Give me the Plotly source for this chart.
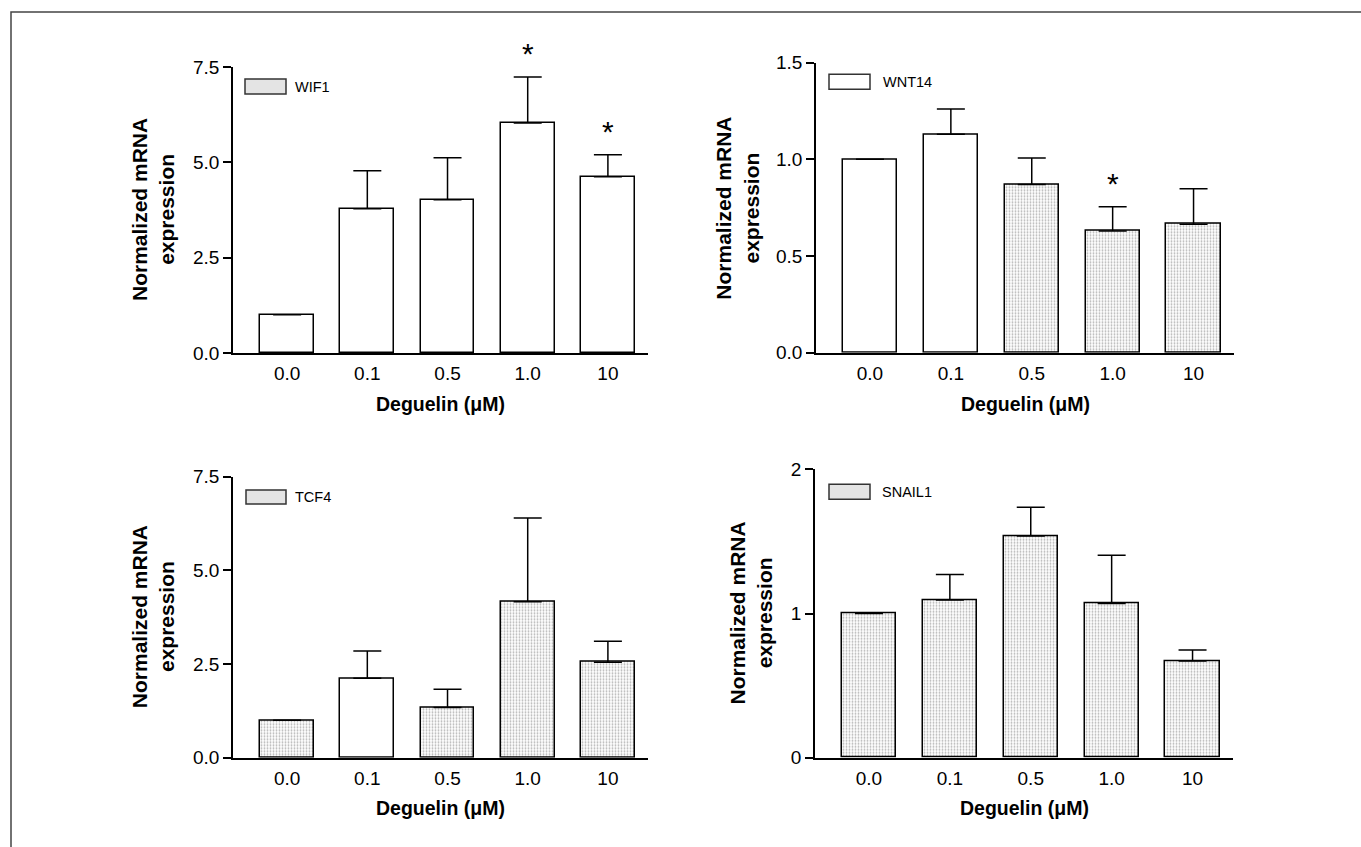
import plotly.graph_objects as go

# ---------------- data ----------------
concentrations = ["0.0", "0.1", "0.5", "1.0", "10"]

wif1_mean = [1.0, 3.78, 4.02, 6.03, 4.62]
wif1_err = [0.0, 1.0, 1.1, 1.21, 0.58]
wif1_sig = [False, False, False, True, True]
wif1_dotted = [False, False, False, False, False]

wnt14_mean = [1.0, 1.13, 0.87, 0.63, 0.665]
wnt14_err = [0.0, 0.13, 0.137, 0.125, 0.183]
wnt14_sig = [False, False, False, True, False]
wnt14_dotted = [False, False, True, True, True]

tcf4_mean = [1.0, 2.12, 1.34, 4.16, 2.55]
tcf4_err = [0.0, 0.73, 0.49, 2.24, 0.56]
tcf4_sig = [False, False, False, False, False]
tcf4_dotted = [True, False, True, True, True]

snail1_mean = [1.0, 1.094, 1.537, 1.07, 0.67]
snail1_err = [0.0, 0.176, 0.2, 0.334, 0.077]
snail1_sig = [False, False, False, False, False]
snail1_dotted = [True, True, True, True, True]

gene_names = ["WIF1", "WNT14", "TCF4", "SNAIL1"]
legend_dotted = [True, False, True, True]

y_ranges = [[0, 7.5], [0, 1.5], [0, 7.5], [0, 2]]
y_ticks = [[0, 2.5, 5.0, 7.5], [0, 0.5, 1.0, 1.5], [0, 2.5, 5.0, 7.5], [0, 1, 2]]
y_ticktext = [["0.0", "2.5", "5.0", "7.5"], ["0.0", "0.5", "1.0", "1.5"],
              ["0.0", "2.5", "5.0", "7.5"], ["0", "1", "2"]]

# ---------------- layout geometry (pixels) ----------------
W, H = 1361, 847
FONT = "Liberation Sans, Arial, Helvetica, sans-serif"

panels = [
    dict(x0=233, x1=648, ytop=67, ybot=353, xr=[-0.675, 4.5], ytitle_x=153),
    dict(x0=816, x1=1234, ytop=62.7, ybot=352.7, xr=[-0.667, 4.5], ytitle_x=737),
    dict(x0=233, x1=648, ytop=476.7, ybot=757.7, xr=[-0.675, 4.5], ytitle_x=153),
    dict(x0=815, x1=1233, ytop=469.3, ybot=757.7, xr=[-0.667, 4.5], ytitle_x=750),
]
xtitle_y = [404, 404, 808, 808]
legend_px = [
    dict(bx0=245, bx1=286, by0=79, by1=94, tx=293),
    dict(bx0=829, bx1=870, by0=74.3, by1=89.3, tx=881),
    dict(bx0=246, bx1=286, by0=490, by1=504, tx=293),
    dict(bx0=829, bx1=870, by0=484.3, by1=499.3, tx=880),
]

means = [wif1_mean, wnt14_mean, tcf4_mean, snail1_mean]
errs = [wif1_err, wnt14_err, tcf4_err, snail1_err]
sigs = [wif1_sig, wnt14_sig, tcf4_sig, snail1_sig]
dotted = [wif1_dotted, wnt14_dotted, tcf4_dotted, snail1_dotted]

fig = go.Figure()
shapes = []
annotations = []
layout = dict(
    width=W, height=H, autosize=False,
    margin=dict(l=0, r=0, t=0, b=0, pad=0, autoexpand=False),
    paper_bgcolor="white", plot_bgcolor="white",
    showlegend=False,
    font=dict(family=FONT, color="black"),
    bargap=0,
)

xpos = list(range(len(concentrations)))
for i in range(4):
    p = panels[i]
    sfx = "" if i == 0 else str(i + 1)
    xa, ya = "x" + sfx, "y" + sfx

    fig.add_trace(go.Bar(
        x=xpos, y=means[i], xaxis=xa, yaxis=ya, width=0.67,
        marker=dict(
            color="white",
            line=dict(color="black", width=1.5),
            pattern=dict(shape=["." if d else "" for d in dotted[i]],
                         fgcolor="#b4b4b4", bgcolor="white",
                         size=3, solidity=0.3, fillmode="replace"),
        ),
        error_y=dict(type="data", symmetric=False, array=errs[i],
                     arrayminus=[0] * len(errs[i]),
                     color="black", thickness=1.5, width=14),
        cliponaxis=False,
    ))

    layout["xaxis" + sfx] = dict(
        domain=[p["x0"] / W, p["x1"] / W], anchor=ya, range=p["xr"],
        automargin=False,
        showline=True, linecolor="black", linewidth=2.2,
        tickvals=xpos, ticktext=concentrations,
        ticks="outside", ticklen=2, tickcolor="rgba(0,0,0,0)",
        tickfont=dict(size=19, family=FONT, color="black"),
        showgrid=False, zeroline=False, fixedrange=True,
    )
    layout["yaxis" + sfx] = dict(
        domain=[1 - p["ybot"] / H, 1 - p["ytop"] / H], anchor=xa,
        range=y_ranges[i], automargin=False,
        tickvals=y_ticks[i], ticktext=y_ticktext[i],
        showline=True, linecolor="black", linewidth=1.6,
        ticks="outside", ticklen=8, tickwidth=1.6, tickcolor="black",
        tickfont=dict(size=19, family=FONT, color="black"),
        showgrid=False, zeroline=False, fixedrange=True,
    )

    annotations.append(dict(
        text="<b>Normalized mRNA<br>expression</b>", textangle=-90,
        xref="paper", yref=ya + " domain", x=p["ytitle_x"] / W, y=0.5,
        xanchor="center", yanchor="middle", showarrow=False,
        font=dict(size=21, family=FONT, color="black"),
    ))
    annotations.append(dict(
        text="<b>Deguelin (μM)</b>",
        xref=xa + " domain", yref="paper", x=0.5, y=1 - xtitle_y[i] / H,
        xanchor="center", yanchor="middle", showarrow=False,
        font=dict(size=19.5, family=FONT, color="black"),
    ))
    for k, s in enumerate(sigs[i]):
        if s:
            annotations.append(dict(
                text="*", xref=xa, yref=ya, x=xpos[k], y=means[i][k] + errs[i][k],
                xanchor="center", yanchor="bottom", yshift=5, showarrow=False,
                font=dict(size=30, family=FONT, color="black"),
            ))
    lg = legend_px[i]
    shapes.append(dict(
        type="rect", xref="paper", yref="paper",
        x0=lg["bx0"] / W, x1=lg["bx1"] / W,
        y0=1 - lg["by1"] / H, y1=1 - lg["by0"] / H,
        fillcolor="#e4e4e4" if legend_dotted[i] else "white",
        line=dict(color="#333333", width=1.5),
    ))
    annotations.append(dict(
        text=gene_names[i], xref="paper", yref="paper",
        x=lg["tx"] / W, y=1 - (lg["by0"] + lg["by1"]) / 2 / H,
        xanchor="left", yanchor="middle", showarrow=False,
        font=dict(size=14.5, family=FONT, color="black"),
    ))

# outer frame (top and left edges visible in the crop)
shapes.append(dict(
    type="rect", xref="paper", yref="paper",
    x0=11 / W, x1=1.02, y0=-0.02, y1=1 - 12 / H,
    line=dict(color="#444444", width=1.5), fillcolor="rgba(0,0,0,0)",
))

layout["shapes"] = shapes
layout["annotations"] = annotations
fig.update_layout(**layout)
fig.write_html("out.html",
               config={"displayModeBar": False},
               post_script="document.body.style.margin='0';document.body.style.overflow='hidden';")
